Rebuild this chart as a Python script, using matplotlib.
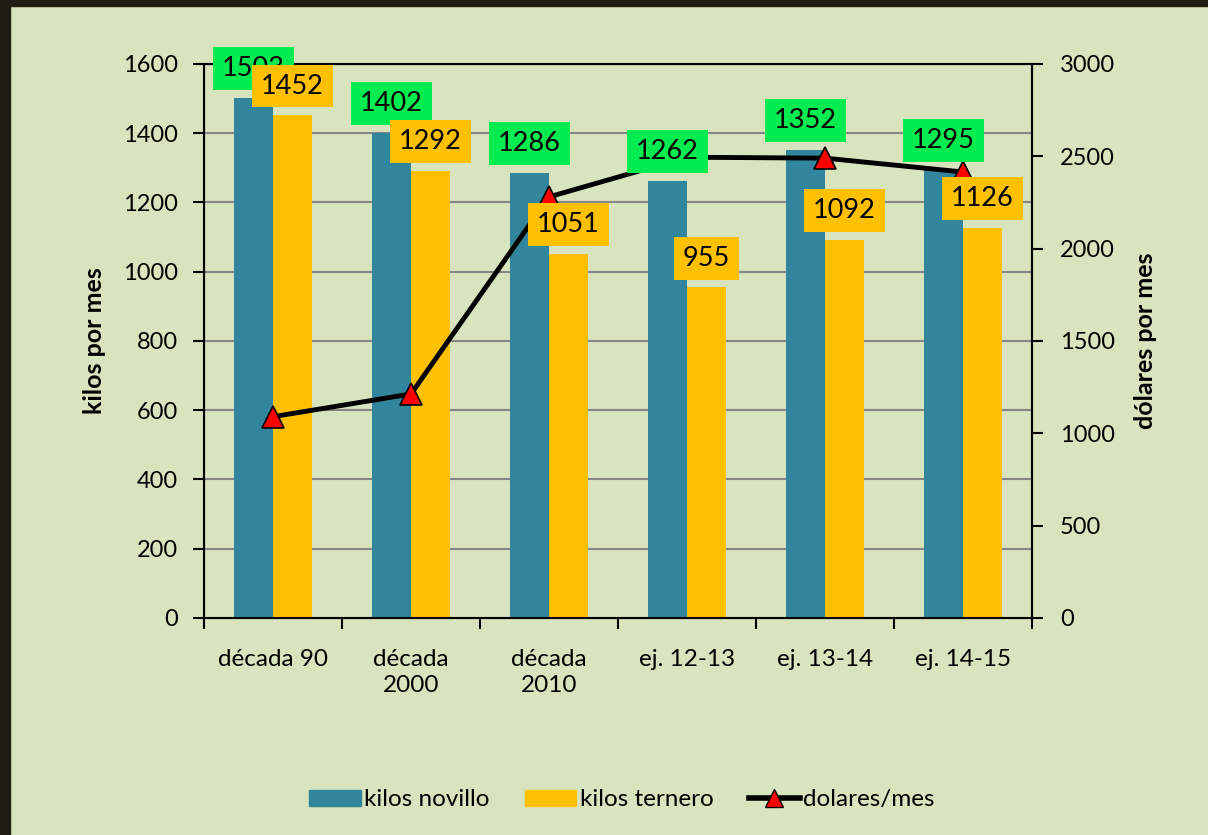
import matplotlib.pyplot as plt
import numpy as np
from matplotlib.patches import Rectangle
from matplotlib.lines import Line2D

plt.rcParams['font.family'] = ['Lato', 'DejaVu Sans']

categories = ['década 90', 'década\n2000', 'década\n2010', 'ej. 12-13', 'ej. 13-14', 'ej. 14-15']
kilos_novillo = [1503, 1402, 1286, 1262, 1352, 1295]
kilos_ternero = [1452, 1292, 1051, 955, 1092, 1126]
dolares_mes = [1090, 1213, 2280, 2495, 2490, 2415]

bg = '#d8e4bd'
teal = '#31859c'
gold = '#ffc000'
green = '#00ec50'

fig = plt.figure(figsize=(12.08, 8.35), dpi=100, facecolor=bg)
# dark frame on top and left edge
fig.patches.append(Rectangle((0, 0), 10 / 1208, 1, transform=fig.transFigure, color='#1f1c12', zorder=0))
fig.patches.append(Rectangle((0, 1 - 6 / 835), 1, 6 / 835, transform=fig.transFigure, color='#1f1c12', zorder=0))

ax = fig.add_axes([0.1689, 0.2599, 0.6854, 0.6635])
ax.set_facecolor(bg)
x = np.arange(len(categories))
w = 0.283

ax.bar(x - w / 2, kilos_novillo, w, color=teal, zorder=2)
ax.bar(x + w / 2, kilos_ternero, w, color=gold, zorder=2)

ax.set_xlim(-0.5, 5.5)
ax.set_ylim(0, 1600)
ax.set_yticks(range(0, 1601, 200))
ax.yaxis.grid(True, color='#868686', linewidth=1.5, zorder=0)
ax.set_axisbelow(True)
ax.set_xticks(x)
ax.set_xticklabels(categories, fontsize=17.5, linespacing=1.3)
ax.set_xticks(np.arange(-0.5, 6, 1), minor=True)
ax.tick_params(axis='x', which='major', length=0, pad=22)
ax.tick_params(axis='x', which='minor', length=8, width=1.5, direction='out')
ax.tick_params(axis='y', length=8, width=1.5, labelsize=17, pad=11)
for s in ax.spines.values():
    s.set_linewidth(1.5)
    s.set_color('black')
ax.set_ylabel('kilos por mes', fontsize=18, fontweight='bold', labelpad=12)

ax2 = ax.twinx()
ax2.set_ylim(0, 3000)
ax2.set_yticks(range(0, 3001, 500))
ax2.tick_params(axis='y', length=8, width=1.5, labelsize=17, pad=12)
ax2.spines['right'].set_linewidth(1.5)
ax2.plot(x, dolares_mes, color='black', linewidth=3.5, marker='^', markersize=16,
         markerfacecolor='red', markeredgecolor='black', markeredgewidth=1.2, zorder=3)
ax2.set_ylabel('dólares por mes', fontsize=18, fontweight='bold', labelpad=14)

# value labels, drawn above the line
for i in range(len(categories)):
    ax2.annotate(str(kilos_novillo[i]), xy=(x[i] - w / 2, kilos_novillo[i] * 3000 / 1600),
                 xytext=(0, 21), textcoords='offset points', ha='center', va='center',
                 fontsize=19.5, zorder=5,
                 bbox=dict(boxstyle='square,pad=0.33', facecolor=green, edgecolor='none'))
for i in range(len(categories)):
    ax2.annotate(str(kilos_ternero[i]), xy=(x[i] + w / 2, kilos_ternero[i] * 3000 / 1600),
                 xytext=(0, 21), textcoords='offset points', ha='center', va='center',
                 fontsize=19.5, zorder=6,
                 bbox=dict(boxstyle='square,pad=0.33', facecolor=gold, edgecolor='none'))

handles = [Rectangle((0, 0), 1, 1, color=teal),
           Rectangle((0, 0), 1, 1, color=gold),
           Line2D([], [], color='black', linewidth=4, marker='^', markersize=13,
                  markerfacecolor='red', markeredgecolor='black')]
fig.legend(handles, ['kilos novillo', 'kilos ternero', 'dolares/mes'], loc='center',
           bbox_to_anchor=(0.515, 0.042), ncol=3, frameon=False, fontsize=17.5,
           handlelength=2.1, handleheight=0.65, handletextpad=0.15, columnspacing=1.45)

plt.savefig('out.png', dpi=100, facecolor=bg)
